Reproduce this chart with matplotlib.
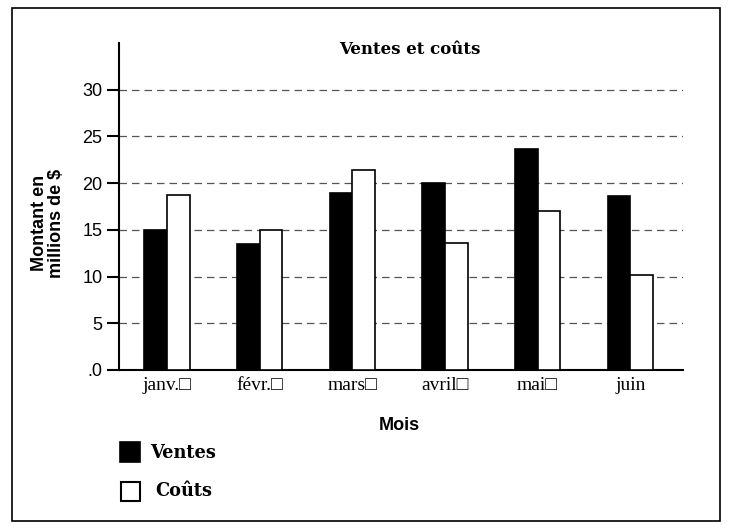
import matplotlib
matplotlib.use("Agg")
import matplotlib.pyplot as plt
from matplotlib.patches import Rectangle
import numpy as np

months = ["janv.\u25a1", "févr.\u25a1", "mars\u25a1", "avril\u25a1", "mai\u25a1", "juin"]
ventes = [15.0, 13.5, 18.9, 20.0, 23.7, 18.6]
couts = [18.7, 15.0, 21.4, 13.6, 17.0, 10.2]
yticks = [0, 5, 10, 15, 20, 25, 30]
ytick_labels = [".0", "5", "10", "15", "20", "25", "30"]

serif = ["Liberation Serif", "DejaVu Serif", "DejaVu Sans"]
wserif = ["DejaVu Serif", "DejaVu Sans"]
sans = ["Liberation Sans", "DejaVu Sans"]

fig = plt.figure(figsize=(7.30, 5.29), dpi=100)
ax = fig.add_axes([0.163, 0.3006, 0.9356 - 0.163, 0.9187 - 0.3006])

x = np.arange(len(months))
w = 0.245
ax.bar(x - w / 2, ventes, w, color="black", edgecolor="black", linewidth=1.2, zorder=3)
ax.bar(x + w / 2, couts, w, color="white", edgecolor="black", linewidth=1.2, zorder=3)

ax.set_xlim(-0.52, 5.57)
ax.set_ylim(0, 35)
ax.set_yticks(yticks)
ax.set_yticklabels(ytick_labels, family=sans, fontsize=13)
ax.set_xticks(x)
ax.set_xticklabels(months, family=serif, fontsize=14)
ax.tick_params(axis="x", length=0, pad=5)
ax.tick_params(axis="y", direction="out", length=9, width=1.5, pad=3)

for s in ["top", "right"]:
    ax.spines[s].set_visible(False)
ax.spines["left"].set_linewidth(1.5)
ax.spines["bottom"].set_linewidth(1.5)

for t in yticks[1:]:
    ax.axhline(t, color="#555555", linestyle=(0, (6, 4)), linewidth=0.9, zorder=1)


def fx(px):
    return px / 730.0


def fy(py):
    return 1 - py / 529.0


fig.text(fx(410), fy(49), "Ventes et coûts", ha="center", va="center",
         family=wserif, fontweight="bold", fontsize=12)

fig.text(fx(399), fy(425), "Mois", ha="center", va="center",
         family=sans, fontweight="bold", fontsize=13)
fig.text(fx(48), fy(223), "Montant en\nmillions de $", rotation=90, ha="center", va="center",
         family=sans, fontweight="bold", fontsize=13, linespacing=1.0)

# legend
fig.patches.append(Rectangle((fx(120), fy(462)), fx(20), 20 / 529.0, transform=fig.transFigure,
                             facecolor="black", edgecolor="black", linewidth=1.2))
fig.patches.append(Rectangle((fx(121), fy(501)), fx(19), 19 / 529.0, transform=fig.transFigure,
                             facecolor="white", edgecolor="black", linewidth=1.5))
fig.text(fx(150), fy(453), "Ventes", family=wserif, fontweight="bold", fontsize=12.8, va="center")
fig.text(fx(155), fy(491), "Coûts", family=wserif, fontweight="bold", fontsize=12.8, va="center")

# outer border
fig.patches.append(Rectangle((fx(12), fy(521)), fx(708), 513 / 529.0, transform=fig.transFigure,
                             facecolor="none", edgecolor="black", linewidth=1.2))

fig.savefig("out.png", dpi=100)
